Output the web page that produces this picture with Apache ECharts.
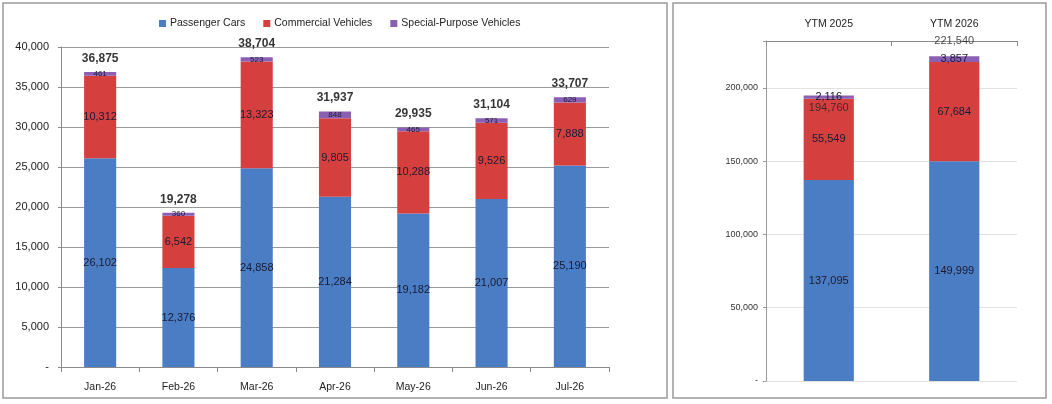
<!DOCTYPE html>
<html>
<head>
<meta charset="utf-8">
<script src="https://cdn.jsdelivr.net/npm/echarts@6/dist/echarts.min.js"></script>
<style>
html,body{margin:0;padding:0;background:#fff;}
#c{width:1052px;height:404px;}
</style>
</head>
<body>
<div id="c"></div>
<script>
// ---- data ----
const months = ['Jan-26','Feb-26','Mar-26','Apr-26','May-26','Jun-26','Jul-26'];
const passengerCars = [26102,12376,24858,21284,19182,21007,25190];
const commercialVehicles = [10312,6542,13323,9805,10288,9526,7888];
const specialPurpose = [461,360,523,848,465,571,629];
const monthlyTotals = [36875,19278,38704,31937,29935,31104,33707];

const ytmCategories = ['YTM 2025','YTM 2026'];
const ytmPassenger = [137095,149999];
const ytmCommercial = [55549,67684];
const ytmSpecial = [2116,3857];
const ytmTotals = [194760,221540];

const leftTicks = {min:0, max:40000, interval:5000};
const rightTicks = {min:0, max:232000, interval:50000};

// ---- styles ----
const FONT = "'Liberation Sans','Arial',sans-serif";
const BLUE = '#4a7dc4', RED = '#d5403f', PURPLE = '#8b5fb3';
const LBL = '#1a1a33';
const fmt = v => v === 0 ? '-' : Number(v).toLocaleString('en-US');
const ytmTotalOffsets = [[0, 12], [0, -15]];

const chart = echarts.init(document.getElementById('c'), null, {renderer:'canvas'});

const option = {
  animation: false,
  textStyle: {fontFamily: FONT},
  graphic: [
    {type:'rect', shape:{x:3,y:3,width:664,height:395}, style:{fill:'none', stroke:'#9a9a9a', lineWidth:1.5}, silent:true},
    {type:'rect', shape:{x:673,y:3,width:373,height:395}, style:{fill:'none', stroke:'#9a9a9a', lineWidth:1.5}, silent:true}
  ],
  legend: {
    data: ['Passenger Cars','Commercial Vehicles','Special-Purpose Vehicles'],
    left: 154, top: 13,
    icon: 'rect', itemWidth: 7, itemHeight: 7, itemGap: 18,
    textStyle: {fontFamily: FONT, fontSize: 10.5, color: '#222', padding:[0,0,0,-1]}
  },
  grid: [
    {left:61, right:443, top:47, bottom:37},
    {left:766, right:35, top:41, bottom:23}
  ],
  xAxis: [
    {type:'category', gridIndex:0, data: months,
     axisLine:{onZero:false, lineStyle:{color:'#8a8a8a'}},
     axisTick:{show:true, length:5, lineStyle:{color:'#8a8a8a'}},
     axisLabel:{fontFamily:FONT, fontSize:10.5, color:'#222', margin:15}},
    {type:'category', gridIndex:1, data: ytmCategories, position:'top',
     axisLine:{onZero:false, lineStyle:{color:'#8a8a8a'}},
     axisTick:{show:true, inside:true, length:5, lineStyle:{color:'#8a8a8a'}},
     axisLabel:{fontFamily:FONT, fontSize:10.5, color:'#222', margin:11}}
  ],
  yAxis: [
    {type:'value', gridIndex:0, min:leftTicks.min, max:leftTicks.max, interval:leftTicks.interval,
     axisLine:{show:true, lineStyle:{color:'#8a8a8a'}},
     axisTick:{show:true, length:3, lineStyle:{color:'#8a8a8a'}},
     splitLine:{show:true, lineStyle:{color:'#9a9a9a', width:1}},
     axisLabel:{fontFamily:FONT, fontSize:11, color:'#222', margin:12, formatter: fmt}},
    {type:'value', gridIndex:1, min:rightTicks.min, max:rightTicks.max, interval:rightTicks.interval,
     axisLine:{show:true, lineStyle:{color:'#9a9a9a'}},
     axisTick:{show:true, length:3, lineStyle:{color:'#9a9a9a'}},
     splitLine:{show:true, lineStyle:{color:'#e2e2e2', width:1}},
     axisLabel:{fontFamily:FONT, fontSize:9, color:'#333', margin:8,
       formatter: v => (v % rightTicks.interval === 0) ? fmt(v) : ''}}
  ],
  series: [
    {name:'Passenger Cars', type:'bar', stack:'m', xAxisIndex:0, yAxisIndex:0, barWidth:'41%',
     itemStyle:{color:BLUE}, data: passengerCars,
     label:{show:true, position:'inside', fontFamily:FONT, fontSize:11, color:LBL, formatter: p => fmt(p.value)}},
    {name:'Commercial Vehicles', type:'bar', stack:'m', xAxisIndex:0, yAxisIndex:0, barWidth:'41%',
     itemStyle:{color:RED}, data: commercialVehicles,
     label:{show:true, position:'inside', fontFamily:FONT, fontSize:11, color:LBL, formatter: p => fmt(p.value)}},
    {name:'Special-Purpose Vehicles', type:'bar', stack:'m', xAxisIndex:0, yAxisIndex:0, barWidth:'41%',
     itemStyle:{color:PURPLE}, data: specialPurpose,
     label:{show:true, position:'inside', fontFamily:FONT, fontSize:8, color:LBL, formatter: p => fmt(p.value)}},
    {name:'Total', type:'scatter', xAxisIndex:0, yAxisIndex:0, symbolSize:1,
     itemStyle:{color:'rgba(0,0,0,0)'}, data: monthlyTotals, z:5,
     label:{show:true, position:'top', distance:7, fontFamily:FONT, fontSize:12, fontWeight:'bold', color:'#000', formatter: p => fmt(p.value)}},

    {name:'YTM Passenger', type:'bar', stack:'y', xAxisIndex:1, yAxisIndex:1, barWidth:'40%',
     itemStyle:{color:BLUE}, data: ytmPassenger,
     label:{show:true, position:'inside', fontFamily:FONT, fontSize:11, color:LBL, formatter: p => fmt(p.value)}},
    {name:'YTM Commercial', type:'bar', stack:'y', xAxisIndex:1, yAxisIndex:1, barWidth:'40%',
     itemStyle:{color:RED}, data: ytmCommercial,
     label:{show:true, position:'inside', fontFamily:FONT, fontSize:11, color:LBL, formatter: p => fmt(p.value)}},
    {name:'YTM Special', type:'bar', stack:'y', xAxisIndex:1, yAxisIndex:1, barWidth:'40%',
     itemStyle:{color:PURPLE}, data: ytmSpecial,
     label:{show:true, position:'inside', fontFamily:FONT, fontSize:11, color:LBL, formatter: p => fmt(p.value)}},
    {name:'YTM Total', type:'scatter', xAxisIndex:1, yAxisIndex:1, symbolSize:1,
     itemStyle:{color:'rgba(0,0,0,0)'}, z:5,
     data: ytmTotals.map((v,i) => ({value:v, label:{offset: ytmTotalOffsets[i]}})),
     label:{show:true, position:'inside', fontFamily:FONT, fontSize:11, color:'#222', formatter: p => fmt(p.value)}}
  ]
};
chart.setOption(option);
</script>
</body>
</html>
